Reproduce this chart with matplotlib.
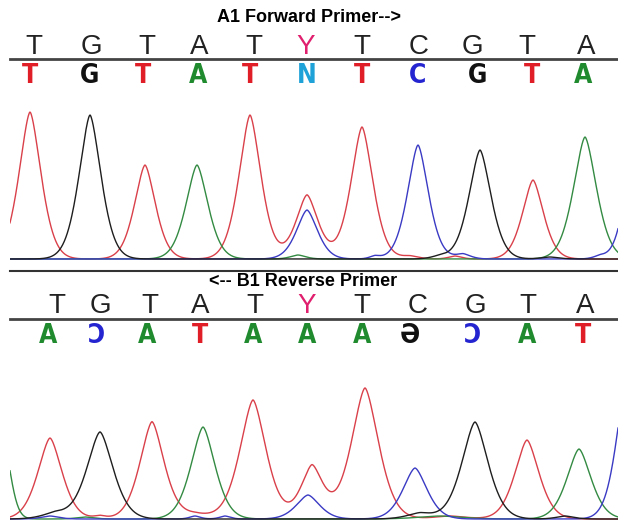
import numpy as np
import matplotlib.pyplot as plt
from matplotlib import font_manager

W, H = 618, 522

# sequence letters
ref_bases = ['T', 'G', 'T', 'A', 'T', 'Y', 'T', 'C', 'G', 'T', 'A']
fwd_calls = ['T', 'G', 'T', 'A', 'T', 'N', 'T', 'C', 'G', 'T', 'A']
rev_calls = ['A', 'Ɔ', 'A', 'T', 'A', 'A', 'A', 'Ә', 'Ɔ', 'A', 'T']
rev_call_bases = ['A', 'C', 'A', 'T', 'A', 'A', 'A', 'G', 'C', 'A', 'T']

fwd_ref_x = [34, 91, 147, 199, 254, 306, 362, 419, 472, 527, 586]
fwd_call_x = [30, 90, 143, 198, 250, 307, 362, 418, 478, 532, 583]
rev_ref_x = [57, 100, 150, 200, 255, 307, 362, 418, 475, 528, 585]
rev_call_x = [48, 97, 147, 200, 253, 307, 362, 410, 473, 527, 583]

# peaks per channel: (position, height, width)
top_red = [(30, 147, 10.5), (145, 94, 10), (250, 144, 10.5), (307, 64, 10.5), (362, 132, 10.5), (533, 79, 10),
           (410, 3, 8), (455, 3, 6)]
top_black = [(90, 144, 10.5), (480, 109, 10.5), (440, 3, 8), (550, 2, 8)]
top_green = [(197, 94, 10.5), (585, 122, 11), (298, 4, 7)]
top_blue = [(307, 49, 10), (418, 114, 10), (635, 120, 9), (375, 3, 5), (463, 5, 7), (600, 3, 6)]

bot_red = [(50, 81, 11.5), (152, 97, 11.5), (253, 119, 12.5), (312, 53, 10.5), (365, 131, 13), (527, 79, 11.5),
           (100, 3, 6), (195, 5, 15), (450, 3, 15)]
bot_black = [(100, 87, 12.5), (475, 97, 12.5), (55, 6, 12), (420, 6, 12), (565, 3, 8)]
bot_green = [(5, 70, 6), (203, 92, 11.5), (579, 70, 11.5), (85, 2, 8), (440, 3, 20)]
bot_blue = [(308, 24, 11), (415, 51, 11.5), (628, 150, 10), (50, 3, 8), (195, 3, 5), (225, 3, 5)]

base_colors = {'A': '#1f8a2e', 'C': '#2424d0', 'G': '#111111', 'T': '#e01e28',
               'N': '#1fa2d8', 'Y': '#e0206e'}
trace_colors = {'red': '#d9404a', 'black': '#1e1e1e', 'green': '#338a42', 'blue': '#3a3ac4'}


# narrow bold font for the base calls, if one is around
def weight_of(f):
    w = f.weight
    if isinstance(w, str):
        w = font_manager.weight_dict.get(w, 400)
    return w


fonts = font_manager.fontManager.ttflist
narrow_bold = [f for f in fonts
               if (('Narrow' in f.name or 'Condensed' in f.name
                    or f.stretch in ('condensed', 'semi-condensed', 'extra-condensed', 75, 87))
                   and weight_of(f) >= 600)]
call_font = dict(family=['DejaVu Sans'], fontweight='bold')
for pref in ['DejaVu', 'Liberation', 'Roboto', 'Open Sans', 'Noto Sans', '']:
    hit = [f for f in narrow_bold if pref in f.name and 'Mono' not in f.name]
    if hit:
        f = hit[0]
        call_font = dict(family=[f.name, 'DejaVu Sans'], fontweight='bold', fontstretch=f.stretch)
        break


def trace(x, peaks):
    y = np.zeros_like(x)
    for c, h, s in peaks:
        y += h * np.exp(-0.5 * (np.abs(x - c) / s) ** 1.6)
    return y


fig = plt.figure(figsize=(W / 100, H / 100), dpi=100)
fig.patch.set_facecolor('white')

bg = fig.add_axes([0, 0, 1, 1])
bg.set_xlim(0, W)
bg.set_ylim(H, 0)
bg.axis('off')

x = np.linspace(10, W, 1200)

# top panel traces
ax1 = fig.add_axes([10 / W, 1 - 262 / H, (W - 10) / W, 162 / H])
ax1.set_xlim(10, W)
ax1.set_ylim(-3, 159)
ax1.axis('off')
for name, pk in [('red', top_red), ('green', top_green), ('blue', top_blue), ('black', top_black)]:
    ax1.plot(x, trace(x, pk), color=trace_colors[name], lw=1.0)

# bottom panel traces
ax2 = fig.add_axes([10 / W, 0, (W - 10) / W, 167 / H])
ax2.set_xlim(10, W)
ax2.set_ylim(-3, 164)
ax2.axis('off')
for name, pk in [('red', bot_red), ('green', bot_green), ('blue', bot_blue), ('black', bot_black)]:
    ax2.plot(x, trace(x, pk), color=trace_colors[name], lw=1.0)

# titles
bg.text(309, 18, 'A1 Forward Primer-->', ha='center', va='center', fontsize=13,
        fontweight='bold', family=['Liberation Sans', 'DejaVu Sans'])
bg.text(303, 281, '<-- B1 Reverse Primer', ha='center', va='center', fontsize=13,
        fontweight='bold', family=['Liberation Sans', 'DejaVu Sans'])

# reference sequence rows
for b, xx in zip(ref_bases, fwd_ref_x):
    bg.text(xx, 47, b, ha='center', va='center', fontsize=20,
            color=base_colors['Y'] if b == 'Y' else '#222222', family=['Liberation Sans', 'DejaVu Sans'])
for b, xx in zip(ref_bases, rev_ref_x):
    bg.text(xx, 306, b, ha='center', va='center', fontsize=20,
            color=base_colors['Y'] if b == 'Y' else '#222222', family=['Liberation Sans', 'DejaVu Sans'])

# called bases
for b, xx in zip(fwd_calls, fwd_call_x):
    bg.text(xx, 76, b, ha='center', va='center', fontsize=19,
            color=base_colors[b], **call_font)
for b, bb, xx in zip(rev_calls, rev_call_bases, rev_call_x):
    bg.text(xx, 336, b, ha='center', va='center', fontsize=19,
            color=base_colors[bb], **call_font)

# separator lines
bg.plot([10, W], [58.5, 58.5], color='#444444', lw=2)
bg.plot([10, W], [270.5, 270.5], color='#333333', lw=1.5)
bg.plot([10, W], [318.5, 318.5], color='#444444', lw=2)

fig.savefig('out.png', dpi=100, facecolor='white')
